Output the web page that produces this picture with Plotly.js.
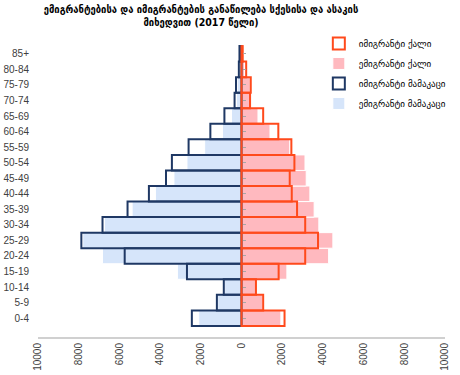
<!DOCTYPE html>
<html>
<head>
<meta charset="utf-8">
<script src="https://cdn.plot.ly/plotly-3.0.1.min.js"></script>
<style>html,body{margin:0;padding:0;background:#fff;}#chart{width:460px;height:375px;}</style>
</head>
<body>
<div id="chart"></div>
<script>
const ageGroups = ["0-4","5-9","10-14","15-19","20-24","25-29","30-34","35-39","40-44","45-49","50-54","55-59","60-64","65-69","70-74","75-79","80-84","85+"];
const emigrantMale   = [2100,1170,830,3150,6830,7800,6730,5375,4230,3320,2680,1810,935,490,250,210,80,50];
const immigrantMale  = [2440,1210,870,2680,5740,7870,6830,5600,4550,3710,3420,2600,1530,840,340,270,130,100];
const emigrantFemale = [1935,1040,690,2230,4280,4490,3800,3570,3360,3180,3120,2370,1400,810,485,430,150,80];
const immigrantFemale= [2115,1065,710,1825,3130,3760,3130,2730,2470,2370,2600,2450,1810,1065,420,455,230,60];
const tickVals = [-10000,-8000,-6000,-4000,-2000,0,2000,4000,6000,8000,10000];
const tickText = ["10000","8000","6000","4000","2000","0","2000","4000","6000","8000","10000"];
const names = {
  imF: "იმიგრანტი ქალი",
  emF: "ემიგრანტი ქალი",
  imM: "იმიგრანტი მამაკაცი",
  emM: "ემიგრანტი მამაკაცი"
};
const neg = a => a.map(v => -v);
const geo = '"DejaVu Sans", sans-serif';
const geoC = '"DejaVu Sans Condensed", "DejaVu Sans", sans-serif';

const traces = [
  {type:'bar', orientation:'h', y:ageGroups, x:neg(emigrantMale), name:names.emM, legendrank:4, legendgroup:'d',
   marker:{color:'#D6E5FA', line:{color:'#ffffff', width:1}}, hoverinfo:'skip'},
  {type:'bar', orientation:'h', y:ageGroups, x:emigrantFemale, name:names.emF, legendrank:2, legendgroup:'b',
   marker:{color:'#FFB9BF', line:{color:'#ffffff', width:1}}, hoverinfo:'skip'},
  {type:'bar', orientation:'h', y:ageGroups, x:neg(immigrantMale), name:names.imM, legendrank:3, legendgroup:'c',
   marker:{color:'rgba(0,0,0,0)', line:{color:'#1F3864', width:2}}, hoverinfo:'skip'},
  {type:'bar', orientation:'h', y:ageGroups, x:immigrantFemale, name:names.imF, legendrank:1, legendgroup:'a',
   marker:{color:'rgba(0,0,0,0)', line:{color:'#FF4A1C', width:2}}, hoverinfo:'skip'},
  {type:'scatter', mode:'markers', y:ageGroups, x:ageGroups.map(()=>0), yaxis:'y2', showlegend:false,
   marker:{opacity:0}, hoverinfo:'skip'}
];

const layout = {
  width:460, height:375,
  margin:{l:38, r:9, t:35, b:38},
  paper_bgcolor:'#fff', plot_bgcolor:'#fff',
  barmode:'overlay', bargap:0,
  title:{text:'ემიგრანტებისა და იმიგრანტების განაწილება სქესისა და ასაკის<br>მიხედვით (2017 წელი)',
         font:{family:geoC, size:10.5, color:'#000', weight:'bold'}, x:0.437, xanchor:'center', xref:'container',
         yref:'container', y:0.966, yanchor:'middle'},
  xaxis:{range:[-10000,10000], tickvals:tickVals, ticktext:tickText, tickangle:-90, automargin:false,
         showgrid:false, zeroline:false, showline:true, linecolor:'#D0D0D0', linewidth:2,
         tickfont:{family:'"Liberation Sans", Arial, sans-serif', size:10, color:'#404040'}, fixedrange:true},
  yaxis:{type:'category', categoryorder:'array', categoryarray:ageGroups, showgrid:false, zeroline:false, showline:false, automargin:false,
         tickfont:{family:'"Liberation Sans", Arial, sans-serif', size:10, color:'#404040'}, ticks:'', ticklabelstandoff:8, fixedrange:true},
  yaxis2:{matches:'y', overlaying:'y', anchor:'free', position:0.5, side:'right', ticks:'outside', ticklen:3, automargin:false,
          tickcolor:'#A6A6A6', tickwidth:1, showticklabels:false, showline:false, showgrid:false, zeroline:false},
  legend:{x:0.69, xanchor:'left', y:1.02, yanchor:'top', bgcolor:'rgba(0,0,0,0)', tracegroupgap:1,
          font:{family:geo, size:9, color:'#000'}, itemwidth:30},
  showlegend:true
};
Plotly.newPlot('chart', traces, layout, {displayModeBar:false, staticPlot:true});
</script>
</body>
</html>
